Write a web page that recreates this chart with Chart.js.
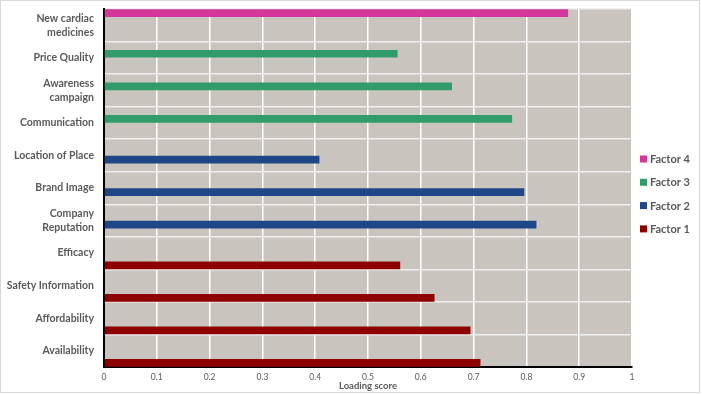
<!DOCTYPE html>
<html>
<head>
<meta charset="utf-8">
<script src="https://cdn.jsdelivr.net/npm/chart.js@4"></script>
<style>
  html, body { margin: 0; padding: 0; background: #fff; }
  #wrap { width: 702px; height: 394px; position: relative; }
</style>
</head>
<body>
<div id="wrap"><canvas id="chart"></canvas></div>
<script>
const categories = [
    ['New cardiac', 'medicines'], 'Price Quality', ['Awareness', 'campaign'], 'Communication',
    'Location of Place', 'Brand Image', ['Company', 'Reputation'], 'Efficacy',
    'Safety Information', 'Affordability', 'Availability'
];
const factor4 = [0.879, null, null, null, null, null, null, null, null, null, null];
const factor3 = [null, 0.556, 0.659, 0.773, null, null, null, null, null, null, null];
const factor2 = [null, null, null, null, 0.408, 0.796, 0.819, null, null, null, null];
const factor1 = [null, null, null, null, null, null, null, 0.561, 0.626, 0.694, 0.713];
const xTicks = [0, 0.1, 0.2, 0.3, 0.4, 0.5, 0.6, 0.7, 0.8, 0.9, 1];

const TEXT = '#595959';

// grey plot area, outer frame
const backdrop = {
    id: 'backdrop',
    beforeDraw(chart) {
        const {ctx, chartArea: a} = chart;
        ctx.save();
        ctx.fillStyle = '#ffffff';
        ctx.fillRect(0, 0, chart.width, chart.height);
        ctx.fillStyle = '#c9c5be';
        ctx.fillRect(a.left, a.top, a.right - a.left, a.bottom - a.top);
        ctx.restore();
    },
    afterDraw(chart) {
        const ctx = chart.ctx;
        ctx.save();
        ctx.strokeStyle = '#d9d9d9';
        ctx.lineWidth = 1;
        ctx.strokeRect(0.5, 0.5, 699, 392);
        ctx.restore();
    }
};

// legend on the right, spaced like the original
const sideLegend = {
    id: 'sideLegend',
    afterDraw(chart) {
        const ctx = chart.ctx;
        const x = chart.chartArea.right + 8;
        ctx.save();
        ctx.font = 'bold 11px Lato';
        ctx.textBaseline = 'middle';
        chart.data.datasets.forEach((ds, i) => {
            const y = 159 + 23.3 * i;
            ctx.fillStyle = ds.backgroundColor;
            ctx.fillRect(x, y - 3.5, 7, 7);
            ctx.fillStyle = TEXT;
            ctx.fillText(ds.label, x + 10, y + 0.5);
        });
        ctx.restore();
    }
};

new Chart(document.getElementById('chart'), {
    type: 'bar',
    data: {
        labels: categories,
        datasets: [
            {label: 'Factor 4', data: factor4, backgroundColor: '#d2389c'},
            {label: 'Factor 3', data: factor3, backgroundColor: '#319b6a'},
            {label: 'Factor 2', data: factor2, backgroundColor: '#1f4788'},
            {label: 'Factor 1', data: factor1, backgroundColor: '#8e0000'}
        ]
    },
    options: {
        indexAxis: 'y',
        responsive: true,
        maintainAspectRatio: false,
        animation: false,
        datasets: {
            bar: {categoryPercentage: 1, barPercentage: 0.95, borderWidth: 0}
        },
        layout: {padding: {top: 9, left: 0, right: 70, bottom: 0}},
        plugins: {
            tooltip: {enabled: false},
            legend: {display: false}
        },
        scales: {
            x: {
                min: 0,
                max: 1,
                afterBuildTicks: scale => { scale.ticks = xTicks.map(v => ({value: v})); },
                afterFit: scale => { scale.height = 27; },
                ticks: {
                    color: TEXT,
                    padding: 5,
                    font: {family: 'Lato', size: 8.5},
                    callback: v => String(+v.toFixed(1))
                },
                grid: {color: '#ffffff', lineWidth: 1.5, drawTicks: false},
                border: {display: true, color: '#000000', width: 2},
                title: {
                    display: true,
                    text: 'Loading score',
                    color: TEXT,
                    padding: {top: 0, bottom: 2},
                    font: {family: 'Lato', size: 9.5, weight: 'bold'}
                }
            },
            y: {
                afterFit: scale => {
                    scale.width = 104;
                    scale.paddingTop = 0;
                    scale.paddingBottom = 0;
                },
                ticks: {
                    color: TEXT,
                    padding: 10,
                    font: {family: 'Lato', size: 10.5, weight: 'bold', lineHeight: 1.35}
                },
                grid: {color: '#f0f0f0', lineWidth: 1.5, drawTicks: false},
                border: {display: true, color: '#000000', width: 2}
            }
        }
    },
    plugins: [backdrop, sideLegend]
});
</script>
</body>
</html>
